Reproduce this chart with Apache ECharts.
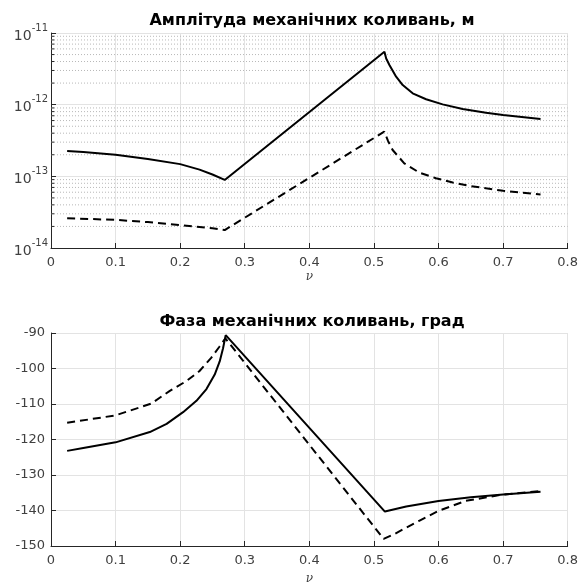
<!DOCTYPE html>
<html>
<head>
<meta charset="utf-8">
<script src="https://cdn.jsdelivr.net/npm/echarts@6/dist/echarts.min.js"></script>
<style>
  html, body { margin: 0; padding: 0; background: #fff; }
  #main { width: 581px; height: 586px; }
</style>
</head>
<body>
<div id="main"></div>
<script>
// amplitude (top plot), log scale
var ampSolidX = [0.025, 0.05, 0.1, 0.15, 0.2, 0.23, 0.25, 0.269, 0.5163, 0.519, 0.524, 0.5344, 0.5446, 0.56, 0.5808, 0.6064, 0.6374, 0.6735, 0.7, 0.758];
var ampSolidY = [2.26e-13, 2.18e-13, 2.0e-13, 1.75e-13, 1.48e-13, 1.24e-13, 1.06e-13, 8.9e-14, 5.48e-12, 4.4e-12, 3.58e-12, 2.46e-12, 1.88e-12, 1.44e-12, 1.19e-12, 1.01e-12, 8.71e-13, 7.73e-13, 7.2e-13, 6.3e-13];
var ampDashX = [0.025, 0.1, 0.15, 0.2, 0.25, 0.269, 0.516, 0.522, 0.529, 0.547, 0.57, 0.596, 0.622, 0.648, 0.6735, 0.7, 0.758];
var ampDashY = [2.6e-14, 2.47e-14, 2.3e-14, 2.09e-14, 1.88e-14, 1.78e-14, 4.2e-13, 3.1e-13, 2.33e-13, 1.52e-13, 1.13e-13, 9.4e-14, 8.2e-14, 7.35e-14, 6.8e-14, 6.3e-14, 5.6e-14];

// phase (bottom plot), degrees
var phSolidX = [0.025, 0.05, 0.1, 0.153, 0.179, 0.2045, 0.2252, 0.2407, 0.2535, 0.2612, 0.2664, 0.2705, 0.517, 0.55, 0.6, 0.65, 0.7, 0.758];
var phSolidY = [-123.2, -122.4, -120.8, -117.9, -115.6, -112.3, -109.1, -105.8, -101.7, -98, -94.3, -90.6, -140.3, -138.9, -137.3, -136.3, -135.5, -134.7];
var phDashX = [0.025, 0.1, 0.155, 0.184, 0.21, 0.23, 0.248, 0.261, 0.27, 0.515, 0.532, 0.57, 0.6, 0.642, 0.7, 0.758];
var phDashY = [-115.3, -113.2, -109.9, -106.3, -103.5, -100.7, -97, -93.8, -91.5, -148, -146.6, -142.9, -140.1, -137.3, -135.5, -134.5];

var xTicks = ['0', '0.1', '0.2', '0.3', '0.4', '0.5', '0.6', '0.7', '0.8'];
var titles = ['Амплітуда механічних коливань, м', 'Фаза механічних коливань, град'];

// minor log levels: 2..9 x 10^n
var minorLevels = [];
[-14, -13, -12].forEach(function (e) {
    for (var m = 2; m <= 9; m++) minorLevels.push(m * Math.pow(10, e));
});

function pairs(xs, ys) {
    return xs.map(function (x, i) { return [x, ys[i]]; });
}

// horizontal pieces at each minor level, broken apart with '-'
function levelSegments(x0, x1) {
    var out = [];
    minorLevels.forEach(function (v) {
        out.push([x0, v], [x1, v], [x1, '-']);
    });
    return out;
}

var font = 'DejaVu Sans';
var axisColor = '#262626';
var labelColor = '#404040';
var gridColor = '#e3e3e3';

function xAxis(idx, gap) {
    return {
        type: 'value', gridIndex: idx, min: 0, max: 0.8, interval: 0.1,
        name: 'ν', nameLocation: 'middle', nameGap: gap,
        nameTextStyle: { fontFamily: 'DejaVu Serif', fontStyle: 'italic', fontSize: 12, color: labelColor },
        axisLine: { show: true, onZero: false, lineStyle: { color: axisColor, width: 1 } },
        axisTick: { show: true, inside: true, length: 5, lineStyle: { color: axisColor } },
        axisLabel: {
            margin: 8, color: labelColor, fontFamily: font, fontSize: 13,
            formatter: function (v) { return xTicks[Math.round(v * 10)]; }
        },
        splitLine: { show: true, lineStyle: { color: gridColor, width: 1 } }
    };
}

var chart = echarts.init(document.getElementById('main'));
var option = {
    backgroundColor: '#fff',
    animation: false,
    title: [
        { text: titles[0], left: 307, top: 8, textAlign: 'center',
          textStyle: { fontFamily: font, fontWeight: 'bold', fontSize: 16, color: '#000' } },
        { text: titles[1], left: 307, top: 309, textAlign: 'center',
          textStyle: { fontFamily: font, fontWeight: 'bold', fontSize: 16, color: '#000' } }
    ],
    grid: [
        { left: 51, top: 33, width: 517, height: 215 },
        { left: 51, top: 333, width: 517, height: 216 }
    ],
    xAxis: [xAxis(0, 23), xAxis(1, 27)],
    yAxis: [
        {
            type: 'log', gridIndex: 0, logBase: 10, min: 1e-14, max: 1e-11, splitNumber: 3,
            axisLine: { show: true, lineStyle: { color: axisColor, width: 1 } },
            axisTick: { show: true, inside: true, length: 5, lineStyle: { color: axisColor } },
            axisLabel: {
                margin: 3, color: labelColor, fontFamily: font, fontSize: 14,
                formatter: function (v) {
                    var e = Math.round(Math.log10(v));
                    return '{b|10}{e|' + e + '}';
                },
                rich: {
                    b: { fontFamily: font, fontSize: 14, color: labelColor, lineHeight: 20, verticalAlign: 'bottom' },
                    e: { fontFamily: font, fontSize: 10, color: labelColor, lineHeight: 20, verticalAlign: 'top' }
                }
            },
            splitLine: { show: true, lineStyle: { color: gridColor, width: 1 } }
        },
        {
            type: 'value', gridIndex: 1, min: -150, max: -90, interval: 10,
            axisLine: { show: true, lineStyle: { color: axisColor, width: 1 } },
            axisTick: { show: true, inside: true, length: 5, lineStyle: { color: axisColor } },
            axisLabel: { margin: 6, color: labelColor, fontFamily: font, fontSize: 13 },
            splitLine: { show: true, lineStyle: { color: gridColor, width: 1 } }
        }
    ],
    series: [
        {
            // dotted minor grid of the log axis
            type: 'line', xAxisIndex: 0, yAxisIndex: 0, data: levelSegments(0, 0.8),
            showSymbol: false, silent: true, connectNulls: false, z: 1,
            lineStyle: { color: '#b8b8b8', width: 1, type: [1, 2] }
        },
        {
            // minor ticks on the log axis
            type: 'line', xAxisIndex: 0, yAxisIndex: 0, data: levelSegments(0, 0.005),
            showSymbol: false, silent: true, connectNulls: false, z: 1,
            lineStyle: { color: axisColor, width: 1 }
        },
        {
            type: 'line', xAxisIndex: 0, yAxisIndex: 0, data: pairs(ampSolidX, ampSolidY),
            showSymbol: false, lineStyle: { color: '#000', width: 2 }, z: 3
        },
        {
            type: 'line', xAxisIndex: 0, yAxisIndex: 0, data: pairs(ampDashX, ampDashY),
            showSymbol: false, lineStyle: { color: '#000', width: 2, type: [8, 5] }, z: 3
        },
        {
            type: 'line', xAxisIndex: 1, yAxisIndex: 1, data: pairs(phSolidX, phSolidY),
            showSymbol: false, lineStyle: { color: '#000', width: 2 }, z: 3
        },
        {
            type: 'line', xAxisIndex: 1, yAxisIndex: 1, data: pairs(phDashX, phDashY),
            showSymbol: false, lineStyle: { color: '#000', width: 2, type: [8, 5] }, z: 3
        }
    ]
};
chart.setOption(option);
</script>
</body>
</html>
